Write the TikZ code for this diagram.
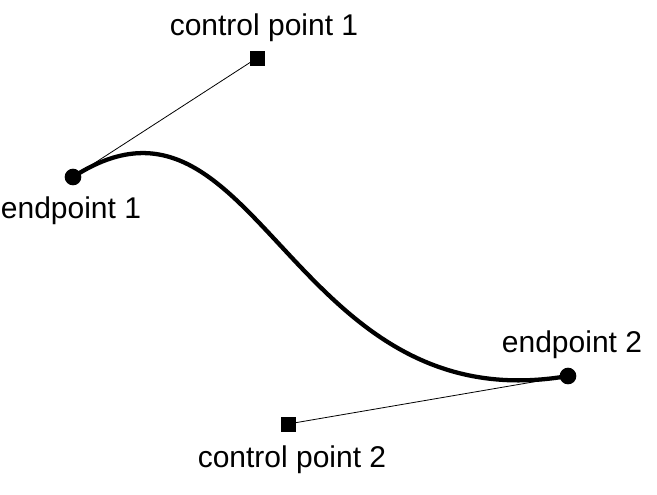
\documentclass[tikz,border=0pt]{standalone}
\usepackage{fontspec}
\setmainfont{Liberation Sans}
\begin{document}
\begin{tikzpicture}[x=0.75pt,y=-0.75pt,
    ctrl/.style={fill=black,inner sep=0pt,minimum size=11.25pt},
    endpt/.style={circle,fill=black,inner sep=0pt,minimum size=12.5pt},
    lbl/.style={anchor=base,inner sep=0pt,font=\fontsize{22.5}{27}\selectfont}]
  \useasboundingbox (0,0) rectangle (657,494);
  % the four points
  \coordinate (e1) at (73,177);
  \coordinate (c1) at (257,58);
  \coordinate (c2) at (288,424);
  \coordinate (e2) at (568,376);
  \draw[line width=0.6pt] (e1) -- (c1);
  \draw[line width=0.6pt] (e2) -- (c2);
  \draw[line width=3.2pt] (e1) .. controls (c1) and (c2) .. (e2);
  \node[endpt] (p1) at (e1) {};
  \node[endpt] (p2) at (e2) {};
  \node[ctrl] (q1) at (c1) {};
  \node[ctrl] (q2) at (c2) {};
  % labels
  \node[lbl] (l1) at (71,218) {endpoint 1};
  \node[lbl] (l2) at (572,352) {endpoint 2};
  \node[lbl] (l3) at (264,35) {control point 1};
  \node[lbl] (l4) at (292,467) {control point 2};
\end{tikzpicture}
\end{document}
